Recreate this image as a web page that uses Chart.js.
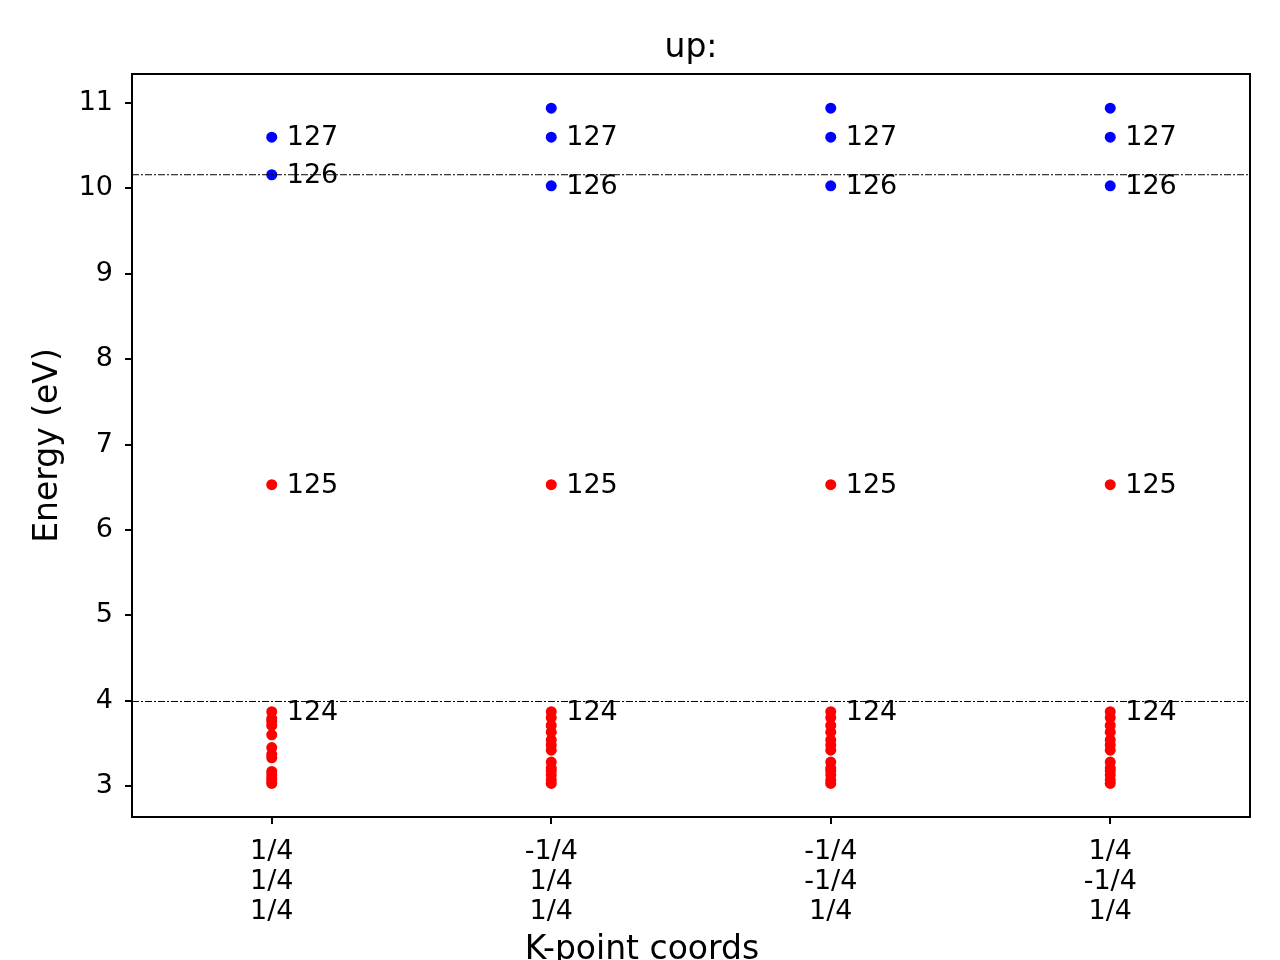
<!DOCTYPE html>
<html>
<head>
<meta charset="utf-8">
<script src="https://cdn.jsdelivr.net/npm/chart.js@4.4.1/dist/chart.umd.min.js"></script>
<style>
  html, body { margin: 0; padding: 0; background: #fff; }
  #wrap { width: 1280px; height: 960px; }
</style>
</head>
<body>
<div id="wrap"><canvas id="myChart1" width="1280" height="960"></canvas></div>
<script>
// k-points (columns) and their tick labels
var kLabels = [
	['1/4', '1/4', '1/4'],
	['-1/4', '1/4', '1/4'],
	['-1/4', '-1/4', '1/4'],
	['1/4', '-1/4', '1/4']
];

// occupied bands below 124 at each k-point
var lowBands = [
	[3.03, 3.06, 3.09, 3.13, 3.17, 3.33, 3.37, 3.45, 3.60, 3.71, 3.76, 3.79],
	[3.03, 3.07, 3.13, 3.18, 3.21, 3.28, 3.42, 3.48, 3.54, 3.63, 3.71, 3.80],
	[3.03, 3.07, 3.13, 3.18, 3.21, 3.28, 3.42, 3.48, 3.54, 3.63, 3.71, 3.80],
	[3.03, 3.07, 3.13, 3.18, 3.21, 3.28, 3.42, 3.48, 3.54, 3.63, 3.71, 3.80]
];

// labelled bands
var band124 = [3.87, 3.87, 3.87, 3.87];
var band125 = [6.53, 6.53, 6.53, 6.53];
var band126 = [10.16, 10.03, 10.03, 10.03];
var band127 = [10.60, 10.60, 10.60, 10.60];
var band128 = [null, 10.94, 10.94, 10.94];

var labelled = [
	{ name: '124', values: band124 },
	{ name: '125', values: band125 },
	{ name: '126', values: band126 },
	{ name: '127', values: band127 }
];

// dash-dot reference levels
var refLevels = [3.99, 10.16];

var yTicks = [3, 4, 5, 6, 7, 8, 9, 10, 11];

var FONT = "'DejaVu Sans', sans-serif";

(function() {
	var occupied = [];
	var empty = [];
	for (var k = 0; k < kLabels.length; k++) {
		lowBands[k].forEach(function(e) { occupied.push({ x: k, y: e }); });
		occupied.push({ x: k, y: band124[k] });
		occupied.push({ x: k, y: band125[k] });
		empty.push({ x: k, y: band126[k] });
		empty.push({ x: k, y: band127[k] });
		if (band128[k] !== null) empty.push({ x: k, y: band128[k] });
	}

	var refSets = refLevels.map(function(v) {
		return {
			type: 'line',
			data: [{ x: -0.5, y: v }, { x: kLabels.length - 0.5, y: v }],
			borderColor: '#000',
			borderWidth: 1,
			borderDash: [7, 2, 2, 2],
			pointRadius: 0,
			order: 0
		};
	});

	var textPlugin = {
		id: 'texts',
		afterDatasetsDraw: function(chart) {
			var c = chart.ctx;
			var a = chart.chartArea;
			var xs = chart.scales.x, ys = chart.scales.y;
			c.save();
			c.fillStyle = '#000';
			c.textBaseline = 'middle';
			c.textAlign = 'left';
			c.font = '27px ' + FONT;
			labelled.forEach(function(b) {
				b.values.forEach(function(v, k) {
					if (v === null) return;
					c.fillText(b.name, xs.getPixelForValue(k) + 15, ys.getPixelForValue(v) + 1);
				});
			});
			// frame
			c.strokeStyle = '#000';
			c.lineWidth = 2;
			c.strokeRect(a.left, a.top, a.right - a.left, a.bottom - a.top);
			// titles
			c.textAlign = 'center';
			c.font = '33px ' + FONT;
			c.fillText('up:', (a.left + a.right) / 2, 48);
			c.fillText('K-point coords', 642, 950);
			c.translate(48, (a.top + a.bottom) / 2);
			c.rotate(-Math.PI / 2);
			c.fillText('Energy (eV)', 0, 0);
			c.restore();
		}
	};

	var ctx = document.getElementById('myChart1').getContext('2d');
	new Chart(ctx, {
		type: 'scatter',
		data: {
			datasets: [
				{ data: occupied, backgroundColor: '#ff0000', pointRadius: 5.5, borderWidth: 0, order: 1 },
				{ data: empty, backgroundColor: '#0000ff', pointRadius: 5.5, borderWidth: 0, order: 1 }
			].concat(refSets)
		},
		options: {
			responsive: false,
			animation: false,
			events: [],
			layout: { padding: { top: 74, right: 30, left: 0, bottom: 0 } },
			plugins: { legend: { display: false }, tooltip: { enabled: false }, title: { display: false } },
			scales: {
				x: {
					type: 'linear',
					min: -0.5,
					max: kLabels.length - 0.5,
					afterBuildTicks: function(s) {
						s.ticks = kLabels.map(function(l, i) { return { value: i }; });
					},
					afterFit: function(s) { s.height = 143; },
					ticks: {
						color: '#000',
						font: { family: FONT, size: 27, lineHeight: 1.11 },
						padding: 13,
						maxRotation: 0,
						autoSkip: false,
						callback: function(v) { return kLabels[Math.round(v)]; }
					},
					grid: { drawOnChartArea: false, drawTicks: true, tickLength: 7, color: '#000', lineWidth: 2 },
					border: { display: true, color: '#000', width: 2 }
				},
				y: {
					min: 2.637,
					max: 11.34,
					afterBuildTicks: function(s) {
						s.ticks = yTicks.map(function(v) { return { value: v }; });
					},
					afterFit: function(s) { s.width = 132; },
					ticks: {
						color: '#000',
						font: { family: FONT, size: 27 },
						padding: 12,
						callback: function(v) { return String(v); }
					},
					grid: { drawOnChartArea: false, drawTicks: true, tickLength: 7, color: '#000', lineWidth: 2 },
					border: { display: true, color: '#000', width: 2 }
				}
			}
		},
		plugins: [textPlugin]
	});
})();
</script>
</body>
</html>
